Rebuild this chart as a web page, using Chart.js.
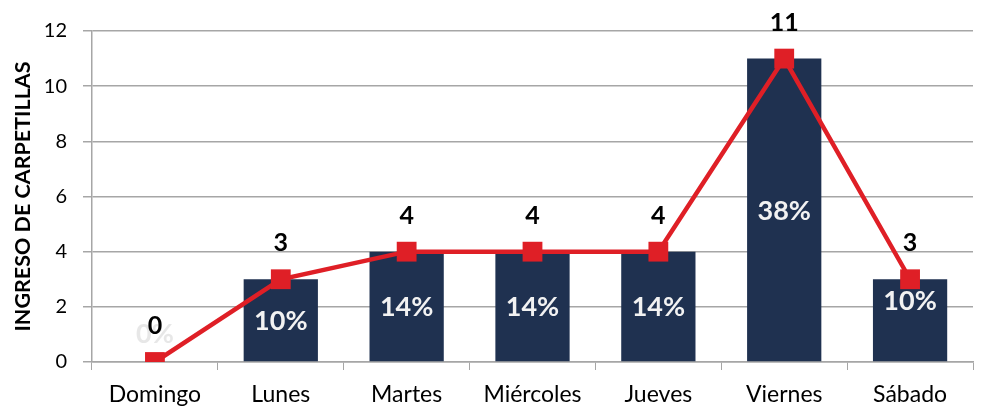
<!DOCTYPE html>
<html>
<head>
<meta charset="utf-8">
<script src="https://cdn.jsdelivr.net/npm/chart.js@4/dist/chart.umd.min.js"></script>
<style>
  html, body { margin: 0; padding: 0; background: #fff; }
  #wrap { width: 987px; height: 407px; }
</style>
</head>
<body>
<div id="wrap"><canvas id="myChart" width="987" height="407"></canvas></div>
<script>
const days = ["Domingo", "Lunes", "Martes", "Miércoles", "Jueves", "Viernes", "Sábado"];
const ingresos = [0, 3, 4, 4, 4, 11, 3];
const yTicks = [0, 2, 4, 6, 8, 10, 12];

const total = ingresos.reduce((a, b) => a + b, 0);
const percentLabels = ingresos.map((v) => Math.round((v / total) * 100) + "%");

const FONT = "Lato, 'Noto Sans', sans-serif";
const BAR_COLOR = "#1F3150";
const LINE_COLOR = "#DF1F26";
const GRID_COLOR = "#A6A6A6";

// draws the value labels above the points and the percentages inside the bars
const labelPlugin = {
  id: "labels",
  afterDatasetsDraw(chart) {
    const ctx = chart.ctx;
    const barMeta = chart.getDatasetMeta(0);
    const lineMeta = chart.getDatasetMeta(1);
    ctx.save();
    ctx.textAlign = "center";
    ctx.textBaseline = "middle";

    barMeta.data.forEach((bar, i) => {
      let mid = Math.min((bar.y + bar.base) / 2, bar.base - 29);
      if (i === barMeta.data.length - 1) mid -= 20; // last label sits higher in the original
      ctx.font = "bold 27px " + FONT;
      ctx.fillStyle = ingresos[i] === 0 ? "rgba(228,228,228,0.9)" : "#F2F2F2";
      ctx.fillText(percentLabels[i], bar.x, mid + 1);
    });

    lineMeta.data.forEach((pt, i) => {
      ctx.font = "bold 25px " + FONT;
      ctx.fillStyle = "#000";
      ctx.fillText(String(ingresos[i]), pt.x, pt.y - 36);
    });
    ctx.restore();
  },
};

const ctx = document.getElementById("myChart").getContext("2d");
new Chart(ctx, {
  type: "bar",
  data: {
    labels: days,
    datasets: [
      {
        type: "bar",
        label: "Ingreso",
        data: ingresos,
        backgroundColor: BAR_COLOR,
        barPercentage: 0.59,
        categoryPercentage: 1,
        order: 1,
      },
      {
        type: "line",
        label: "Tendencia",
        data: ingresos,
        borderColor: LINE_COLOR,
        backgroundColor: LINE_COLOR,
        borderWidth: 4.5,
        pointStyle: "rect",
        pointRadius: 14,
        pointHoverRadius: 14,
        pointBorderWidth: 0,
        tension: 0,
        order: 0,
      },
    ],
  },
  options: {
    responsive: false,
    animation: false,
    layout: { padding: { top: 31, right: 1, left: 0, bottom: 0 } },
    plugins: {
      legend: { display: false },
      tooltip: { enabled: false },
    },
    scales: {
      x: {
        afterFit: (axis) => {
          axis.height = 45;
        },
        grid: {
          offset: true,
          drawOnChartArea: false,
          color: GRID_COLOR,
          tickLength: 8,
        },
        border: { color: GRID_COLOR, width: 1.5 },
        ticks: {
          color: "#000",
          font: { family: FONT, size: 23 },
          padding: 11,
        },
      },
      y: {
        min: 0,
        max: 12,
        afterBuildTicks: (axis) => {
          axis.ticks = yTicks.map((v) => ({ value: v }));
        },
        afterFit: (axis) => {
          axis.width = 92;
        },
        grid: {
          color: GRID_COLOR,
          lineWidth: 1.5,
          tickLength: 9,
        },
        border: { color: GRID_COLOR, width: 1.5 },
        ticks: {
          color: "#000",
          font: { family: FONT, size: 20 },
          padding: 16,
        },
        title: {
          display: true,
          text: "INGRESO DE CARPETILLAS",
          color: "#000",
          font: { family: FONT, size: 21.5, weight: "bold" },
          padding: { top: 10, bottom: 0 },
        },
      },
    },
  },
  plugins: [labelPlugin],
});
</script>
</body>
</html>
